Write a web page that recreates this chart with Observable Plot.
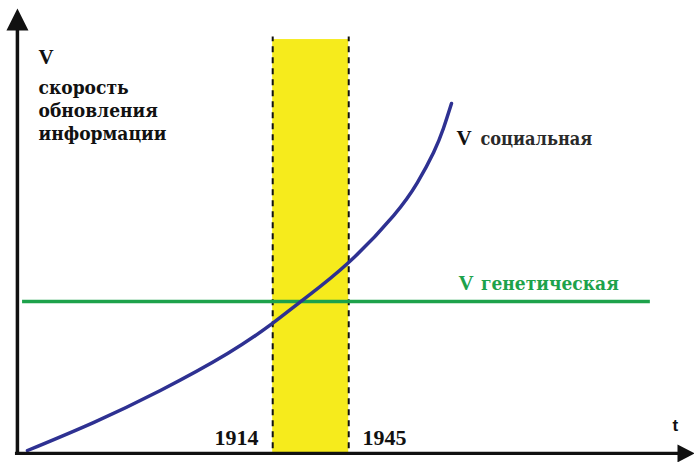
<!DOCTYPE html>
<html>
<head>
<meta charset="utf-8">
<script src="https://cdn.jsdelivr.net/npm/d3@7"></script>
<script src="https://cdn.jsdelivr.net/npm/@observablehq/plot@0.6"></script>
<style>
  html, body { margin: 0; padding: 0; background: #fff; }
  #chart svg { display: block; }
</style>
</head>
<body>
<div id="chart"></div>
<script>
// ---- data (years on x, relative speed V on y; V genetic = 1) ----
const socialYears  = [1814.0, 1840.9, 1868.2, 1895.6, 1913.9, 1926.6, 1944.5, 1963.3, 1973.0, 1979.6, 1983.6, 1986.9];
const socialValues = [0.019, 0.203, 0.414, 0.657, 0.855, 1.013, 1.249, 1.565, 1.782, 1.980, 2.138, 2.302];
const geneticValue = 1;
const geneticSpan  = [1812, 2068];
const periodYears  = [1914, 1945];
const periodLabels = ["1914", "1945"];
const yAxisTitle   = ["V", "скорость\nобновления\nинформации"];
const socialLabel  = ["V", "социальная"];
const geneticLabel = ["V", "генетическая"];
const xAxisTitle   = "t";

const social = socialYears.map((t, i) => ({t, v: socialValues[i]}));

// axis frame in data units
const xStart = 1809.9, xEnd = 2080.7, yTop = 2.82, bandTop = 2.723;

const upArrow = {draw(ctx) { ctx.moveTo(0, -12); ctx.lineTo(11, 10); ctx.lineTo(-11, 10); ctx.closePath(); }};
const rightArrow = {draw(ctx) { ctx.moveTo(13, 0); ctx.lineTo(-4, -9); ctx.lineTo(-4, 9); ctx.closePath(); }};

const serif = "'Liberation Serif', 'Times New Roman', serif";
const cyr = "'DejaVu Serif Condensed', 'DejaVu Serif', serif";
const blue = "#2E3192", green = "#1DA24B", yellow = "#F6EB1C";

const chart = Plot.plot({
  width: 694,
  height: 462,
  margin: 0,
  x: {domain: [1803, 2086], axis: null},
  y: {domain: [-0.06, 2.98], axis: null},
  style: {background: "white"},
  marks: [
    // period band
    Plot.rect([periodYears], {x1: d => d[0], x2: d => d[1], y1: 0, y2: bandTop, fill: yellow}),
    Plot.ruleX(periodYears, {x: d => d, y1: 0.03, y2: 2.74, stroke: "#111", strokeWidth: 2, strokeDasharray: "6,5"}),
    // genetic speed
    Plot.ruleY([geneticValue], {y: d => d, x1: geneticSpan[0], x2: geneticSpan[1], stroke: green, strokeWidth: 3.5}),
    // social speed
    Plot.line(social, {x: "t", y: "v", stroke: blue, strokeWidth: 3.5, curve: "natural"}),
    // axes
    Plot.ruleX([xStart], {x: d => d, y1: -0.013, y2: yTop, stroke: "#111", strokeWidth: 3.5}),
    Plot.ruleY([0], {y: d => d, x1: 1809.1, x2: xEnd, stroke: "#111", strokeWidth: 3.2}),
    Plot.dot([[xStart, 2.848]], {x: d => d[0], y: d => d[1], symbol: upArrow, fill: "#111", stroke: null}),
    Plot.dot([[xEnd, 0]], {x: d => d[0], y: d => d[1], symbol: rightArrow, fill: "#111", stroke: null}),
    // labels
    Plot.text([yAxisTitle[0]], {x: 1818.5, y: 2.565, text: d => d, textAnchor: "start", lineAnchor: "bottom", fontFamily: serif, fontWeight: "bold", fontSize: 21, fill: "#111"}),
    Plot.text([yAxisTitle[1]], {x: 1818.5, y: 2.065, text: d => d, textAnchor: "start", lineAnchor: "bottom", lineHeight: 1.2, fontFamily: cyr, fontWeight: "bold", fontSize: 19, fill: "#111"}),
    Plot.text([socialLabel[0]], {x: 1988.9, y: 2.026, text: d => d, textAnchor: "start", lineAnchor: "bottom", fontFamily: serif, fontWeight: "bold", fontSize: 21, fill: "#111"}),
    Plot.text([socialLabel[1]], {x: 1998.7, y: 2.026, text: d => d, textAnchor: "start", lineAnchor: "bottom", fontFamily: cyr, fontWeight: "bold", fontSize: 18, fill: "#2a2a2a"}),
    Plot.text([geneticLabel[0]], {x: 1989.8, y: 1.072, text: d => d, textAnchor: "start", lineAnchor: "bottom", fontFamily: serif, fontWeight: "bold", fontSize: 21, fill: green}),
    Plot.text([geneticLabel[1]], {x: 1998.9, y: 1.072, text: d => d, textAnchor: "start", lineAnchor: "bottom", fontFamily: cyr, fontWeight: "bold", fontSize: 19, fill: green}),
    Plot.text(periodLabels, {x: [1890.3, 1950.6], y: 0.052, text: d => d, textAnchor: "start", lineAnchor: "bottom", fontFamily: serif, fontWeight: "bold", fontSize: 22, fill: "#111"}),
    Plot.text([xAxisTitle], {x: 2077.0, y: 0.15, text: d => d, textAnchor: "start", lineAnchor: "bottom", fontFamily: "'Liberation Sans', Arial, sans-serif", fontWeight: "bold", fontSize: 17, fill: "#111"})
  ]
});
document.getElementById("chart").appendChild(chart);
</script>
</body>
</html>
